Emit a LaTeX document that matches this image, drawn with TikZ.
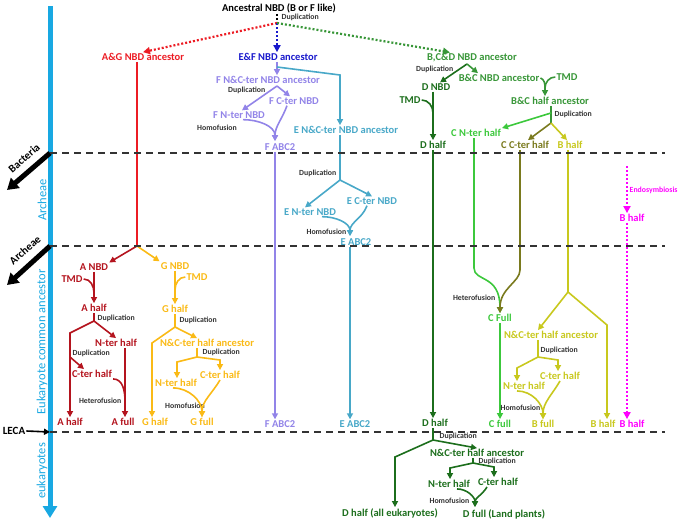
\documentclass[tikz,border=0pt]{standalone}
\usepackage{fontspec}
\setmainfont{Carlito}
\usetikzlibrary{arrows.meta}
\definecolor{axcyan}{RGB}{24,168,226}
\definecolor{agred}{RGB}{236,28,36}
\definecolor{adark}{RGB}{180,20,30}
\definecolor{gyel}{RGB}{250,186,22}
\definecolor{efblue}{RGB}{24,24,204}
\definecolor{fpur}{RGB}{146,132,232}
\definecolor{eteal}{RGB}{72,168,200}
\definecolor{bcgreen}{RGB}{56,150,56}
\definecolor{dgreen}{RGB}{28,110,28}
\definecolor{cgreen}{RGB}{60,200,60}
\definecolor{colive}{RGB}{122,122,30}
\definecolor{byel}{RGB}{200,200,30}
\definecolor{mag}{RGB}{255,0,255}
\tikzset{
  lbl/.style={font=\bfseries\fontsize{10.5}{11}\selectfont, inner sep=1pt},
  sml/.style={font=\bfseries\fontsize{7.8}{8}\selectfont, text=black!80, inner sep=0.5pt},
  axlbl/.style={font=\fontsize{12.5}{13}\selectfont, text=axcyan, rotate=90, inner sep=0pt},
  ln/.style={line width=1.6pt},
  arr/.style={line width=1.6pt, -{Triangle[length=6pt,width=6pt]}},
  dotln/.style={line width=2.2pt, dash pattern=on 2pt off 2pt, -{Triangle[length=7pt,width=7pt]}},
  dashln/.style={line width=1.1pt, black!80, dash pattern=on 7pt off 5pt},
  bigarr/.style={line width=5pt, -{Triangle[length=11pt,width=13pt]}}
}

\begin{document}
\begin{tikzpicture}[x=1pt,y=-1pt]
\useasboundingbox (0,0) rectangle (685,520);
		\begin{scope}
			\coordinate (ax0) at (50,6);
			\coordinate (ax1) at (50,518);
			\coordinate (bac0) at (50,153);
			\coordinate (bac1) at (7,190);
			\coordinate (arc0) at (50,246);
			\coordinate (arc1) at (7,285);
			\coordinate (lec0) at (50,432);
			\coordinate (h1) at (665,153);
			\coordinate (h2) at (665,246);
			\coordinate (h3) at (665,432);
			\node[axlbl] (arch) at (42,200) {Archeae};
			\node[axlbl] (euca) at (42,342) {Eukaryote common ancestor};
			\node[axlbl] (euk) at (42,471) {eukaryotes};
			\node[lbl, font=\bfseries\fontsize{11}{12}\selectfont, rotate=41] (bact) at (24,158) {Bacteria};
			\node[lbl, font=\bfseries\fontsize{11}{12}\selectfont, rotate=41] (archb) at (25,250) {Archeae};
			\node[lbl, font=\bfseries\fontsize{11}{12}\selectfont] (leca) at (14,431) {LECA};
			\draw[axcyan, line width=5pt, -{Triangle[length=12pt,width=14pt]}] (ax0) -- (ax1);
			\draw[bigarr] (bac0) -- (bac1);
			\draw[bigarr] (arc0) -- (arc1);
			\draw[arr, line width=1.6pt] (leca.east) -- (lec0);
		\end{scope}

		\begin{scope}
			\node[lbl] (anc) at (279,8) {Ancestral NBD (B or F like)};
			\node[sml, anchor=west] (dupT) at (281,17) {Duplication};
			\coordinate (s0) at (277,23);
			\node[lbl, text=agred] (ag) at (143,57) {A\&G NBD ancestor};
			\node[lbl, text=efblue] (ef) at (278,57) {E\&F NBD ancestor};
			\node[lbl, text=bcgreen] (bcd) at (472,58) {B,C\&D NBD ancestor};
			\draw[dotln, -] (anc.south -| s0) -- (s0);
			\draw[dotln, agred] (s0) -- (ag.north);
			\draw[dotln, efblue] (s0) -- (ef.north -| s0);
			\draw[dotln, bcgreen] (s0) -- ([xshift=-22pt]bcd.north);
		\end{scope}

		\begin{scope}
			\coordinate (rs) at (137,246);
			\coordinate (aj) at (94,293);
			\coordinate (a1) at (94,321);
			\coordinate (al) at (70,333);
			\coordinate (a2) at (70,357);
			\coordinate (aj2) at (125,401);
			\node[lbl, text=adark] (aNBD) at (94,267) {A NBD};
			\node[lbl, text=adark] (tmdA) at (72,279) {TMD};
			\node[lbl, text=adark] (aHalf) at (94,308) {A half};
			\node[sml, anchor=west] (aDup) at (97,318) {Duplication};
			\node[lbl, text=adark] (aNter) at (116,343) {N-ter half};
			\node[sml, anchor=west] (aDup2) at (72,353) {Duplication};
			\node[lbl, text=adark] (aCter) at (92,374) {C-ter half};
			\node[sml, anchor=east] (hetA) at (122,401) {Heterofusion};
			\node[lbl, text=adark] (aHalfB) at (70,422) {A half};
			\node[lbl, text=adark] (aFull) at (123,422) {A full};
			\draw[ln, agred] (ag.south -| rs) -- (rs);
			\draw[arr, adark] (rs) -- (aNBD.north east);
			\draw[arr, adark] (aNBD.south) -- (aHalf.north);
			\draw[ln, adark] (tmdA.east) to[out=0,in=90] (aj);
			\draw[ln, adark] (aHalf.south) -- (a1);
			\draw[arr, adark] (a1) -- (al) -- (aHalfB.north -| al);
			\draw[arr, adark] (a1) -- (aNter.north);
			\draw[arr, adark] (a2) -- ([xshift=-8pt]aCter.north);
			\draw[arr, adark] (aNter.south -| aj2) -- (aFull.north -| aj2);
			\draw[ln, adark] (aCter.south east) to[out=0,in=90] (aj2);
		\end{scope}

		\begin{scope}
			\coordinate (gj) at (175,290);
			\coordinate (g1) at (175,327);
			\coordinate (gl) at (152,343);
			\coordinate (g2) at (197,357);
			\coordinate (gl2) at (177,362);
			\coordinate (gr2) at (220,360);
			\node[lbl, text=gyel] (gNBD) at (175,266) {G NBD};
			\node[lbl, text=gyel] (tmdG) at (197,277) {TMD};
			\node[lbl, text=gyel] (gHalf) at (175,309) {G half};
			\node[sml, anchor=west] (gDup) at (179,320) {Duplication};
			\node[lbl, text=gyel] (gNC) at (207,343) {N\&C-ter half ancestor};
			\node[sml, anchor=west] (gDup2) at (202,352) {Duplication};
			\node[lbl, text=gyel] (gCter) at (220,375) {C-ter half};
			\node[lbl, text=gyel] (gNter) at (176,383) {N-ter half};
			\node[sml] (gHom) at (185,406) {Homofusion};
			\node[lbl, text=gyel] (gHalfB) at (155,422) {G half};
			\node[lbl, text=gyel] (gFull) at (202,422) {G full};
			\draw[arr, gyel] (rs) -- (gNBD.north west);
			\draw[arr, gyel] (gNBD.south) -- (gHalf.north);
			\draw[ln, gyel] (tmdG.west) to[out=180,in=90] (gj);
			\draw[ln, gyel] (gHalf.south) -- (g1);
			\draw[arr, gyel] (g1) -- (gl) -- (gHalfB.north -| gl);
			\draw[arr, gyel] (g1) -- ([xshift=-10pt]gNC.north);
			\draw[ln, gyel] (gNC.south -| g2) -- (g2);
			\draw[arr, gyel] (g2) -- (gl2) -- (gNter.north -| gl2);
			\draw[arr, gyel] (g2) -- (gr2) -- (gCter.north -| gr2);
			\draw[arr, gyel] ([xshift=-3pt]gNter.south) to[out=0,in=90] (gFull.north);
			\draw[arr, gyel] (gCter.south) to[out=240,in=90] (gFull.north);
		\end{scope}

		\begin{scope}
			\coordinate (fe) at (277,67);
			\coordinate (ec) at (340,75);
			\coordinate (f1) at (277,86);
			\coordinate (fj) at (275,141);
			\node[lbl, text=fpur] (fNC) at (268,80) {F N\&C-ter NBD ancestor};
			\node[sml, anchor=east] (fDup) at (266,90) {Duplication};
			\node[lbl, text=fpur] (fC) at (294,101) {F C-ter NBD};
			\node[lbl, text=fpur] (fN) at (239,115) {F N-ter NBD};
			\node[sml] (fHom) at (217,128) {Homofusion};
			\node[lbl, text=fpur] (fABC) at (280,147) {F ABC2};
			\node[lbl, text=fpur] (fABCb) at (280,424) {F ABC2};
			\draw[arr, fpur] (ef.south -| fe) -- (fNC.north -| fe);
			\draw[arr, fpur] (f1) -- ([xshift=3pt]fN.north);
			\draw[arr, fpur] (f1) -- ([xshift=-4pt]fC.north);
			\draw[arr, fpur] ([xshift=4pt]fN.south) to[out=0,in=90] (fj);
			\draw[arr, fpur] ([xshift=-7pt]fC.south) to[out=250,in=90] (fj);
			\draw[arr, fpur] (fABC.south -| fj) -- (fABCb.north -| fj);
		\end{scope}

		\begin{scope}
			\coordinate (e1) at (340,180);
			\coordinate (ej) at (350,236);
			\node[lbl, text=eteal] (eNC) at (346,130) {E N\&C-ter NBD ancestor};
			\node[sml, anchor=east] (eDup) at (337,173) {Duplication};
			\node[lbl, text=eteal] (eC) at (372,201) {E C-ter NBD};
			\node[lbl, text=eteal] (eN) at (310,212) {E N-ter NBD};
			\node[sml, anchor=east] (eHom) at (347,232) {Homofusion};
			\node[lbl, text=eteal] (eABC) at (356,242) {E ABC2};
			\node[lbl, text=eteal] (eABCb) at (355,424) {E ABC2};
			\draw[arr, eteal] (fe) -- (ec) -- (eNC.north -| ec);
			\draw[ln, eteal] (eNC.south -| e1) -- (e1);
			\draw[arr, eteal] (e1) -- ([xshift=-5pt]eN.north);
			\draw[arr, eteal] (e1) -- (eC.north);
			\draw[arr, eteal] ([xshift=12pt]eN.south) to[out=0,in=90] (ej);
			\draw[arr, eteal] ([xshift=-5pt]eC.south) to[out=250,in=90] (ej);
			\draw[arr, eteal] (eABC.south -| ej) -- (eABCb.north -| ej);
		\end{scope}

		\begin{scope}
			\coordinate (d0) at (467,64);
			\coordinate (dt) at (433,113);
			\coordinate (bcj) at (545,88);
			\coordinate (bc1) at (551,123);
			\coordinate (bc2) at (551,113);
			\node[sml, anchor=east] (bcdDup) at (454,69) {Duplication};
			\node[lbl, text=dgreen] (dNBD) at (436,87) {D NBD};
			\node[lbl, text=bcgreen] (bcNBD) at (499,78) {B\&C NBD ancestor};
			\node[lbl, text=dgreen] (tmdD) at (410,100) {TMD};
			\node[lbl, text=bcgreen] (tmdBC) at (567,77) {TMD};
			\node[lbl, text=bcgreen] (bcHalf) at (550,101) {B\&C half ancestor};
			\node[sml, anchor=west] (bcDup) at (554,114) {Duplication};
			\node[lbl, text=dgreen] (dHalf) at (433,145) {D half};
			\node[lbl, text=cgreen] (cN) at (476,133) {C N-ter half};
			\node[lbl, text=colive] (cC) at (525,145) {C C-ter half};
			\node[lbl, text=byel] (bH) at (570,145) {B half};
			\node[lbl, text=dgreen] (dHalfB) at (435,423) {D half};
			\draw[arr, dgreen] (d0) -- ([xshift=4pt]dNBD.north);
			\draw[arr, bcgreen] (d0) -- ([xshift=-21pt]bcNBD.north);
			\draw[arr, dgreen] (dNBD.south -| dt) -- (dHalf.north -| dt);
			\draw[ln, dgreen] (tmdD.east) to[out=0,in=90] (dt);
			\draw[arr, dgreen] (dHalf.south -| dt) -- (dHalfB.north -| dt);
			\draw[ln, bcgreen] (bcNBD.east) to[out=-20,in=90] (bcj);
			\draw[ln, bcgreen] (tmdBC.west) to[out=180,in=90] (bcj);
			\draw[arr, bcgreen] (bcj) -- (bcHalf.north -| bcj);
			\draw[ln, bcgreen] (bcHalf.south -| bc1) -- (bc1);
			\draw[arr, cgreen] (bc2) -- (cN.north east);
			\draw[arr, colive] (bc1) -- ([xshift=3pt]cC.north);
			\draw[arr, byel] (bc1) -- ([xshift=-3pt]bH.north);
		\end{scope}

		\begin{scope}
			\coordinate (cnb) at (474,268);
			\coordinate (cob) at (520,270);
			\node[lbl, text=cgreen] (cFull) at (500,318) {C Full};
			\node[sml, anchor=east] (hetC) at (496,298) {Heterofusion};
			\node[lbl, text=cgreen] (cFullB) at (500,424) {C full};
			\draw[ln, cgreen] (cN.south -| cnb) -- (cnb);
			\draw[arr, cgreen] (cnb) .. controls +(0,14) and +(0,-39) .. (cFull.north);
			\draw[ln, colive] (cC.south -| cob) -- (cob);
			\draw[arr, colive] (cob) .. controls +(0,12) and +(0,-25) .. (cFull.north);
			\draw[arr, cgreen] (cFull.south) -- (cFullB.north);
		\end{scope}

		\begin{scope}
			\coordinate (b1) at (568,292);
			\coordinate (br) at (607,325);
			\coordinate (b2) at (538,357);
			\coordinate (bl2) at (517,368);
			\coordinate (br2) at (558,360);
			\node[lbl, text=byel] (bNC) at (551,335) {N\&C-ter half ancestor};
			\node[sml, anchor=west] (bDup) at (540,350) {Duplication};
			\node[lbl, text=byel] (bCter) at (560,376) {C-ter half};
			\node[lbl, text=byel] (bNter) at (524,386) {N-ter half};
			\node[sml, anchor=east] (bHom) at (541,408) {Homofusion};
			\node[lbl, text=byel] (bFull) at (543,424) {B full};
			\node[lbl, text=byel] (bHalfB) at (603,424) {B half};
			\draw[ln, byel] (bH.south -| b1) -- (b1);
			\draw[arr, byel] (b1) -- ([xshift=-13pt]bNC.north);
			\draw[arr, byel] (b1) -- (br) -- (bHalfB.north -| br);
			\draw[ln, byel] (bNC.south -| b2) -- (b2);
			\draw[arr, byel] (b2) -- (bl2) -- (bNter.north -| bl2);
			\draw[arr, byel] (b2) -- (br2) -- (bCter.north -| br2);
			\draw[arr, byel] ([xshift=-7pt]bNter.south) to[out=0,in=90] (bFull.north);
			\draw[arr, byel] (bCter.south) to[out=240,in=90] (bFull.north);
		\end{scope}

		\begin{scope}
			\coordinate (mtop) at (627,166);
			\node[sml, anchor=west, text=mag] (endo) at (629,190) {Endosymbiosis};
			\node[lbl, text=mag] (bHm) at (632,218) {B half};
			\node[lbl, text=mag] (bHmB) at (632,424) {B half};
			\draw[dotln, mag, line width=2pt] (mtop) -- (bHm.north -| mtop);
			\draw[dotln, mag, line width=2pt] (bHm.south -| mtop) -- (bHmB.north -| mtop);
		\end{scope}

		\begin{scope}
			\coordinate (d1) at (433,440);
			\coordinate (dl) at (395,457);
			\coordinate (d2) at (473,463);
			\coordinate (dl2) at (450,468);
			\coordinate (dr2) at (494,467);
			\coordinate (dj) at (475,507);
			\node[sml, anchor=west] (dDupB) at (439,436) {Duplication};
			\node[lbl, text=dgreen] (dNC) at (477,453) {N\&C-ter half ancestor};
			\node[sml, anchor=west] (dDup2) at (478,461) {Duplication};
			\node[lbl, text=dgreen] (dCter) at (498,482) {C-ter half};
			\node[lbl, text=dgreen] (dNter) at (449,484) {N-ter half};
			\node[sml, anchor=east] (dHom) at (470,501) {Homofusion};
			\node[lbl, text=dgreen] (dAll) at (390,513) {D half (all eukaryotes)};
			\node[lbl, text=dgreen] (dFull) at (504,514) {D full (Land plants)};
			\draw[ln, dgreen] (dHalfB.south -| d1) -- (d1);
			\draw[arr, dgreen] (d1) -- (dl) -- (dAll.north -| dl);
			\draw[arr, dgreen] (d1) -- (dNC.north);
			\draw[ln, dgreen] (dNC.south -| d2) -- (d2);
			\draw[arr, dgreen] (d2) -- (dl2) -- (dNter.north -| dl2);
			\draw[arr, dgreen] (d2) -- (dr2) -- (dCter.north -| dr2);
			\draw[arr, dgreen] ([xshift=8pt]dNter.south) to[out=0,in=90] (dj);
			\draw[arr, dgreen] ([xshift=-11pt]dCter.south) to[out=240,in=90] (dj);
		\end{scope}

		\draw[dashln] (bac0) -- (h1);
		\draw[dashln] (arc0) -- (h2);
		\draw[dashln] (lec0) -- (h3);
\end{tikzpicture}
\end{document}
